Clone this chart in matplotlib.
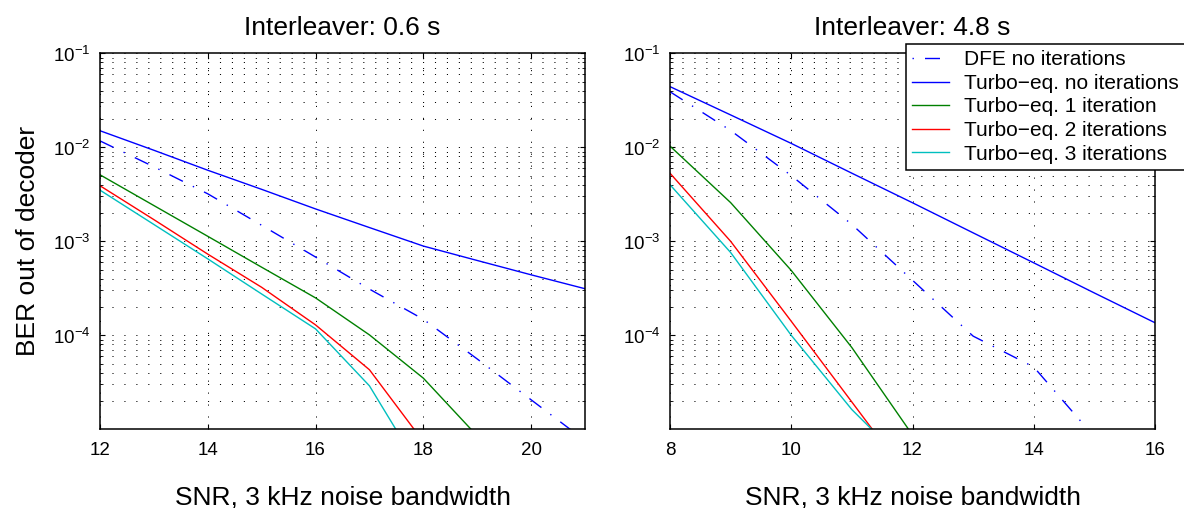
"""BER after decoding vs SNR for DFE and turbo equalisation, two interleaver lengths."""

import matplotlib
matplotlib.use("Agg")
import matplotlib.pyplot as plt

plt.rcParams["font.family"] = ["Liberation Sans", "DejaVu Sans"]
plt.rcParams["mathtext.fontset"] = "custom"
plt.rcParams["mathtext.rm"] = "Liberation Sans"
plt.rcParams["lines.scale_dashes"] = False

# Interleaver 0.6 s
snr_short = [12, 13, 14, 15, 16, 17, 18, 19, 20, 21]
dfe_short = [1.17e-2, 6.2e-3, 3.2e-3, 1.48e-3, 6.8e-4, 3.1e-4, 1.48e-4, 5.6e-5, 2.06e-5, 7.6e-6]
turbo0_short = [1.50e-2, 9.3e-3, 5.7e-3, 3.57e-3, 2.21e-3, 1.40e-3, 8.9e-4, 6.25e-4, 4.4e-4, 3.13e-4]
turbo1_short = [5.1e-3, 2.4e-3, 1.13e-3, 5.3e-4, 2.5e-4, 1.01e-4, 3.5e-5, 8.5e-6]
turbo2_short = [3.9e-3, 1.70e-3, 7.3e-4, 3.24e-4, 1.29e-4, 4.3e-5, 7.4e-6]
turbo3_short = [3.5e-3, 1.51e-3, 6.5e-4, 2.75e-4, 1.17e-4, 2.9e-5, 3.3e-6]

# Interleaver 4.8 s
snr_long = [8, 9, 10, 11, 12, 13, 14, 15, 16]
dfe_long = [3.9e-2, 1.51e-2, 5.0e-3, 1.51e-3, 3.85e-4, 9.8e-5, 4.6e-5, 8.3e-6]
turbo0_long = [4.42e-2, 2.21e-2, 1.10e-2, 5.3e-3, 2.57e-3, 1.23e-3, 5.9e-4, 2.82e-4, 1.36e-4]
turbo1_long = [1.03e-2, 2.58e-3, 4.9e-4, 7.4e-5, 8.7e-6]
turbo2_long = [5.3e-3, 1.0e-3, 1.41e-4, 1.95e-5, 2.7e-6]
turbo3_long = [4.0e-3, 7.6e-4, 1.0e-4, 1.62e-5, 3.7e-6]

labels = [
    "DFE no iterations",
    "Turbo\u2212eq. no iterations",
    "Turbo\u2212eq. 1 iteration",
    "Turbo\u2212eq. 2 iterations",
    "Turbo\u2212eq. 3 iterations",
]
colors = ["#0000ff", "#0000ff", "#008000", "#ff0000", "#00bfbf"]
y_ticks = [1e-4, 1e-3, 1e-2, 1e-1]
y_ticklabels = ["$10^{-4}$", "$10^{-3}$", "$10^{-2}$", "$10^{-1}$"]

DASHDOT = (10.8, 8.0, 1.0, 8.0)
DOTS = (0, (0.8, 7.8))
LABEL_SIZE = 19


def draw_panel(ax, snr, dfe, t0, t1, t2, t3, xlim, xticks, title):
    series = [dfe, t0, t1, t2, t3]
    lines = []
    for i, (vals, col, lab) in enumerate(zip(series, colors, labels)):
        ls = (0, DASHDOT) if i == 0 else "-"
        (ln,) = ax.plot(snr[: len(vals)], vals, color=col, linestyle=ls,
                        linewidth=1.0, label=lab)
        lines.append(ln)

    ax.set_yscale("log")
    ax.set_xlim(*xlim)
    ax.set_ylim(1e-5, 1e-1)
    ax.set_xticks(xticks)
    ax.set_yticks(y_ticks)
    ax.set_yticklabels(y_ticklabels)
    ax.tick_params(which="both", direction="in", top=True, right=True,
                   labelsize=13.5)
    ax.tick_params(axis="y", pad=7)
    ax.tick_params(axis="x", pad=9)
    ax.tick_params(which="major", length=3.6, width=0.8)
    ax.tick_params(which="minor", length=2.2, width=0.6)
    ax.tick_params(axis="x", which="minor", bottom=False, top=False)

    ax.grid(True, which="major", axis="x", color="k", linestyle=DOTS, linewidth=0.7)
    ax.grid(True, which="both", axis="y", color="k", linestyle=DOTS, linewidth=0.7)
    for sp in ax.spines.values():
        sp.set_linewidth(1.1)

    ax.set_title(title, fontsize=LABEL_SIZE, pad=13)
    ax.set_xlabel("SNR, 3 kHz noise bandwidth", fontsize=LABEL_SIZE, va="baseline")
    ax.xaxis.set_label_coords(0.5, -0.199)
    return lines


fig = plt.figure(figsize=(11.84, 5.08), dpi=100)
ax1 = fig.add_axes([0.08446, 0.15492, 0.40963, 0.74016])
ax2 = fig.add_axes([0.56588, 0.15492, 0.40963, 0.74016])

draw_panel(ax1, snr_short, dfe_short, turbo0_short, turbo1_short, turbo2_short,
           turbo3_short, (12, 21), [12, 14, 16, 18, 20], "Interleaver: 0.6 s")
lines = draw_panel(ax2, snr_long, dfe_long, turbo0_long, turbo1_long, turbo2_long,
                   turbo3_long, (8, 16), [8, 10, 12, 14, 16], "Interleaver: 4.8 s")

ax1.set_ylabel("BER out of decoder", fontsize=LABEL_SIZE, va="baseline")
ax1.yaxis.set_label_coords(-0.135, 0.5)

leg = ax2.legend(lines, labels, loc="upper left",
                 bbox_to_anchor=(906 / 1184, 1 - 44 / 508),
                 bbox_transform=fig.transFigure, borderaxespad=0,
                 fontsize=15, frameon=True, fancybox=False, framealpha=1,
                 edgecolor="k", borderpad=0.3, labelspacing=0.22,
                 handlelength=1.75, handletextpad=0.75)
leg.get_frame().set_linewidth(1.1)
# legend sample of the dash-dot line starts on the dot, as in the original
leg.get_lines()[0].set_linestyle((18.8, DASHDOT))

fig.savefig("out.png", dpi=100)
